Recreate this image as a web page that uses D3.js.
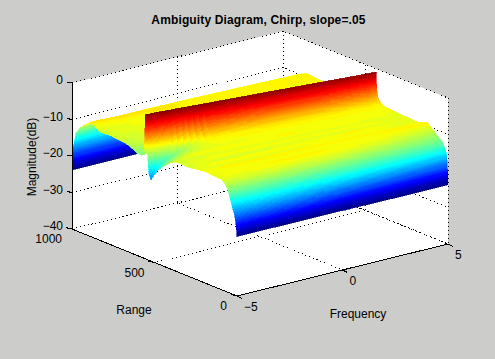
<!DOCTYPE html>
<html>
<head>
<meta charset="utf-8">
<script src="https://cdn.jsdelivr.net/npm/d3@7"></script>
<style>
  html, body { margin: 0; padding: 0; background: #cccdcb; }
  svg { display: block; }
  text { font-family: "Liberation Sans", Helvetica, Arial, sans-serif; font-size: 12px; fill: #000; }
</style>
</head>
<body>
<div id="chart"></div>
<script>
// axis ticks
var freqTicks = [-5, 0, 5];
var rangeTicks = [0, 500, 1000];
var magTicks = [0, -10, -20, -30, -40];

// surface columns, frequency and where the ridge sits in range at that frequency
var surfFreq = [-5, -4.6, -4, -2.5, 0, 2.5, 4.5, 5];
var ridgeRange = [555, 550, 543, 525, 495, 465, 441, 436];

// rows in front of the ridge, position as a fraction of range 0 .. ridge
var frontStops = [0, .004, .009, .017, .03, .05, .075, .1, .13, .17, .22, .28, .34, .40, .46,
  .52, .58, .64, .70, .76, .82, .86, .89, .92, .94, .96, .975, .985, .993, 1];
var frontMag = [
  [-23.7, -23.7, -23.7, -23.7, -23.7, -23.8, -23.8, -23.8],
  [-22.5, -22.3, -22, -21.6, -21, -21, -21, -21],
  [-21, -20.7, -20.2, -19.5, -18.8, -18.6, -18.5, -18.5],
  [-19.5, -19, -18.4, -17.4, -16.5, -16.2, -16, -16],
  [-17.8, -17.3, -16.6, -15.8, -15, -14.9, -14.8, -14.8],
  [-16.4, -15.6, -14.9, -14.2, -13.4, -13.5, -13.6, -13.7],
  [-14, -13.6, -13, -12.6, -12, -12.3, -12.6, -12.7],
  [-12, -11.9, -11.6, -11.3, -11, -11.5, -12, -12.2],
  [-10.6, -10.5, -10.4, -10.3, -10.1, -10.6, -11.5, -11.8],
  [-9.8, -9.7, -9.8, -9.6, -9.6, -9.9, -10.9, -11.1],
  [-9.7, -9.4, -9.3, -9.1, -9.1, -9.4, -10.1, -10.2],
  [-9.6, -9.7, -9.6, -9.6, -9.5, -9.3, -9, -9],
  [-9.5, -9.2, -9, -9.1, -9, -9.2, -9.3, -9.4],
  [-9.6, -9.8, -9.8, -9.9, -9.7, -9.5, -9.8, -9.9],
  [-9.9, -9.6, -9.3, -9.2, -9.2, -9.1, -9.8, -10],
  [-10.1, -10, -10.1, -10.2, -10, -9.8, -9.8, -9.9],
  [-10.2, -9.8, -9.5, -9.3, -9.3, -9.4, -9.6, -9.8],
  [-10, -10, -10.1, -9.9, -9.8, -9.9, -9.9, -9.8],
  [-10.4, -10, -9.4, -9.2, -9.1, -9.2, -9.5, -9.7],
  [-11.6, -10.8, -10, -9.7, -9.6, -9.6, -9.5, -9.6],
  [-13, -11.7, -10.6, -9.5, -9.4, -9.3, -9.3, -9.5],
  [-14.2, -12.5, -11, -9.2, -9.1, -9, -9.2, -9.5],
  [-15.4, -13, -11.5, -9, -9, -8.9, -9.1, -9.4],
  [-16.8, -13.8, -12, -8.5, -8.2, -8.2, -8.6, -9],
  [-17.8, -14.5, -12.5, -7.5, -7, -7, -7.6, -8.6],
  [-16.5, -14, -11, -6, -5, -5, -6, -8.1],
  [-12, -11, -9, -4.5, -3.2, -3.2, -4.6, -7.6],
  [-7.5, -7, -6.5, -3, -2.2, -2.2, -3.2, -6.5],
  [-4, -4, -3.5, -1.8, -1.4, -1.4, -2, -4.5],
  [-0.5, -0.5, -0.5, -0.6, -0.7, -0.8, -0.9, -0.9]
];

// rows behind the ridge, position as a fraction of ridge .. 1000
var backStops = [.01, .025, .05, .11, .24, .44, .62, .74, .80, .89, .946, .987, 1];
var backMag = [
  [-7, -6, -5, -3.5, -3, -3, -3.5, -4],
  [-11.6, -11, -9.6, -8, -7.5, -7.5, -8, -8.5],
  [-12, -11.6, -10.8, -10, -9.6, -9.6, -9.8, -10],
  [-12, -11.4, -10.7, -10.2, -10, -9.8, -9.8, -9.8],
  [-10.7, -10.5, -10.2, -9.8, -9.6, -9.5, -9.6, -9.6],
  [-10.2, -10, -9.9, -9.6, -9.4, -9.3, -9.4, -9.5],
  [-10.3, -9.9, -9.6, -9.3, -9.2, -9.2, -9.2, -9.3],
  [-8.6, -8.6, -8.7, -8.7, -8.8, -8.8, -8.9, -9],
  [-9.6, -9.5, -9.5, -9.4, -9.4, -9.5, -9.6, -9.7],
  [-11.4, -11.3, -11.2, -11.2, -11.2, -11.3, -11.4, -11.4],
  [-13.3, -13.3, -13.2, -13.2, -13.2, -13.2, -13.3, -13.3],
  [-18, -18, -18, -18, -18, -18, -18, -18],
  [-23.8, -23.8, -23.8, -23.8, -23.8, -23.8, -23.8, -23.8]
];

var width = 495, height = 359;

// the oblique view: each data axis moves a point by its own pixel offset
var origin = [237, 296];
var freqX = d3.scaleLinear().domain([-5, 5]).range([0, 211]);
var freqY = d3.scaleLinear().domain([-5, 5]).range([0, -52]);
var rangeX = d3.scaleLinear().domain([0, 1000]).range([0, -165]);
var rangeY = d3.scaleLinear().domain([0, 1000]).range([0, -67]);
var magY = d3.scaleLinear().domain([-40, 0]).range([0, -146]);

function project(f, r, m) {
  return [origin[0] + freqX(f) + rangeX(r), origin[1] + freqY(f) + rangeY(r) + magY(m)];
}

// 64 step jet, same as the default figure colormap
var jetColors = d3.range(64).map(function (i) {
  var v = (i + 0.5) / 64;
  var c = function (k) { return Math.round(255 * Math.max(0, Math.min(1, 1.5 - Math.abs(4 * v - k)))); };
  return "rgb(" + c(3) + "," + c(2) + "," + c(1) + ")";
});
var magColor = d3.scaleQuantize().domain([-23.8, -0.5]).range(jetColors);
var tickFormat = d3.format("d");

var svg = d3.select("#chart").append("svg")
    .attr("width", width)
    .attr("height", height);

var line = d3.line();

// white plot area
svg.append("path")
    .attr("d", line([project(-5, 1000, 0), project(5, 1000, 0), project(5, 0, 0),
                     project(5, 0, -40), project(-5, 0, -40), project(-5, 1000, -40)]) + "Z")
    .attr("fill", "#fff");

// dotted box and grid, behind the surface
var dotted = [];
magTicks.forEach(function (m) {
  dotted.push([project(-5, 1000, m), project(5, 1000, m), project(5, 0, m)]);
});
dotted.push([project(5, 1000, 0), project(5, 1000, -40)]);
dotted.push([project(5, 0, 0), project(5, 0, -40)]);
dotted.push([project(0, 1000, 0), project(0, 1000, -40), project(0, 0, -40)]);
dotted.push([project(5, 500, 0), project(5, 500, -40), project(-5, 500, -40)]);
dotted.push([project(5, 1000, -40), project(5, 0, -40)]);
dotted.push([project(5, 1000, -40), project(-5, 1000, -40)]);

svg.append("g").selectAll("path")
  .data(dotted)
  .join("path")
    .attr("d", line)
    .attr("fill", "none")
    .attr("stroke", "#000")
    .attr("stroke-dasharray", "1 3")
    .attr("shape-rendering", "crispEdges");

// one row list, far to near
var rows = [];
backStops.slice().reverse().forEach(function (s, i) {
  rows.push({ range: function (c) { return ridgeRange[c] + s * (1000 - ridgeRange[c]); },
              mag: backMag[backMag.length - 1 - i] });
});
frontStops.slice().reverse().forEach(function (s, i) {
  rows.push({ range: function (c) { return s * ridgeRange[c]; },
              mag: frontMag[frontMag.length - 1 - i] });
});

// split every grid cell into small flat facets so the colour steps run like interpolated shading
var facets = [];
var lerp = d3.interpolateNumber;
for (var i = 0; i < rows.length - 1; i++) {
  var far = rows[i], near = rows[i + 1];
  for (var c = surfFreq.length - 2; c >= 0; c--) {
    var dz = Math.max(Math.abs(far.mag[c] - near.mag[c]), Math.abs(far.mag[c + 1] - near.mag[c + 1]));
    var nr = Math.max(2, Math.ceil(dz * 3));
    var nf = 6;
    for (var a = 0; a < nr; a++) {
      for (var b = nf - 1; b >= 0; b--) {
        var corner = function (ta, tb) {
          var rr = lerp(lerp(far.range(c), near.range(c))(ta), lerp(far.range(c + 1), near.range(c + 1))(ta))(tb);
          var mm = lerp(lerp(far.mag[c], near.mag[c])(ta), lerp(far.mag[c + 1], near.mag[c + 1])(ta))(tb);
          return { f: lerp(surfFreq[c], surfFreq[c + 1])(tb), r: rr, m: mm };
        };
        var p = [corner(a / nr, b / nf), corner(a / nr, (b + 1) / nf),
                 corner((a + 1) / nr, (b + 1) / nf), corner((a + 1) / nr, b / nf)];
        facets.push({
          d: line(p.map(function (q) { return project(q.f, q.r, q.m); })) + "Z",
          m: d3.mean(p, function (q) { return q.m; })
        });
      }
    }
  }
}

svg.append("g").selectAll("path")
  .data(facets)
  .join("path")
    .attr("d", function (d) { return d.d; })
    .attr("fill", function (d) { return magColor(d.m); })
    .attr("stroke", function (d) { return magColor(d.m); })
    .attr("stroke-width", 0.6)
    .attr("shape-rendering", "crispEdges");

// solid axis lines
svg.append("path")
    .attr("d", line([project(-5, 1000, 0), project(-5, 1000, -40), project(-5, 0, -40), project(5, 0, -40)]))
    .attr("fill", "none")
    .attr("stroke", "#000")
    .attr("shape-rendering", "crispEdges");

// tick marks
var tickMarks = [];
magTicks.forEach(function (m) { tickMarks.push([project(-5, 1000, m), [project(-5, 1000, m)[0] - 5, project(-5, 1000, m)[1] - 1]]); });
rangeTicks.forEach(function (r) { tickMarks.push([project(-5, r, -40), [project(-5, r, -40)[0] - 6, project(-5, r, -40)[1] - 1.5]]); });
freqTicks.forEach(function (f) { tickMarks.push([project(f, 0, -40), [project(f, 0, -40)[0] + 5, project(f, 0, -40)[1] + 2.5]]); });

svg.append("g").selectAll("path")
  .data(tickMarks)
  .join("path")
    .attr("d", line)
    .attr("fill", "none")
    .attr("stroke", "#000")
    .attr("shape-rendering", "crispEdges");

// tick labels
svg.append("g").selectAll("text")
  .data(magTicks)
  .join("text")
    .attr("x", 63)
    .attr("y", function (d) { return project(-5, 1000, d)[1] + 1; })
    .attr("text-anchor", "end")
    .text(tickFormat);

svg.append("g").selectAll("text")
  .data(rangeTicks)
  .join("text")
    .attr("x", function (d) { return project(-5, d, -40)[0] - 10; })
    .attr("y", function (d) { return project(-5, d, -40)[1] + 14; })
    .attr("text-anchor", "end")
    .text(tickFormat);

svg.append("g").selectAll("text")
  .data(freqTicks)
  .join("text")
    .attr("x", function (d) { return project(d, 0, -40)[0] + 7; })
    .attr("y", function (d) { return project(d, 0, -40)[1] + 15; })
    .text(tickFormat);

// axis titles
svg.append("text").attr("x", 134).attr("y", 314).attr("text-anchor", "middle").text("Range");
svg.append("text").attr("x", 358).attr("y", 318).attr("text-anchor", "middle").text("Frequency");
svg.append("text")
    .attr("transform", "translate(36,157) rotate(-90)")
    .attr("text-anchor", "middle")
    .text("Magnitude(dB)");
svg.append("text")
    .attr("x", 258.5).attr("y", 24)
    .attr("text-anchor", "middle")
    .style("font-weight", "bold")
    .style("letter-spacing", "0.13px")
    .text("Ambiguity Diagram, Chirp, slope=.05");
</script>
</body>
</html>
